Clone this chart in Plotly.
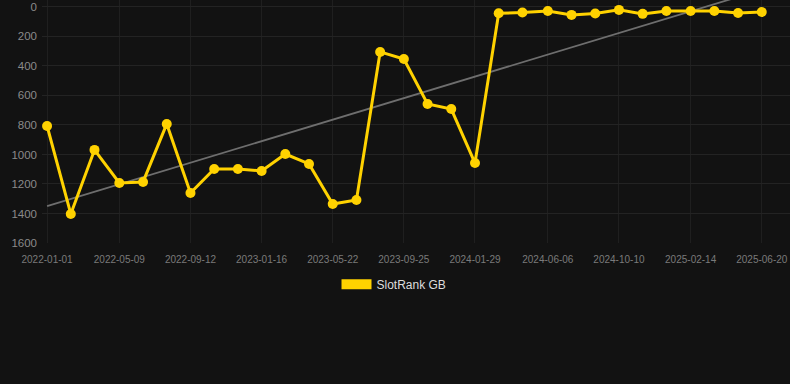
import numpy as np
import pandas as pd
import plotly.graph_objects as go

dates = [
    "2022-01-01", "2022-02-12", "2022-03-26",
    "2022-05-09", "2022-06-20", "2022-08-01",
    "2022-09-12", "2022-10-24", "2022-12-05",
    "2023-01-16", "2023-02-27", "2023-04-10",
    "2023-05-22", "2023-07-03", "2023-08-14",
    "2023-09-25", "2023-11-06", "2023-12-18",
    "2024-01-29", "2024-03-11", "2024-04-22",
    "2024-06-06", "2024-07-18", "2024-08-29",
    "2024-10-10", "2024-11-21", "2025-01-02",
    "2025-02-14", "2025-03-28", "2025-05-09",
    "2025-06-20",
]
rank_gb = [
    807, 1403, 969,
    1193, 1186, 793,
    1261, 1098, 1098,
    1112, 997, 1064,
    1336, 1308, 305,
    353, 658, 692,
    1058, 43, 38,
    27, 54, 45,
    20, 47, 27,
    27, 27, 41,
    34,
]
tick_dates = ["2022-01-01", "2022-05-09", "2022-09-12", "2023-01-16", "2023-05-22",
              "2023-09-25", "2024-01-29", "2024-06-06", "2024-10-10", "2025-02-14",
              "2025-06-20"]
y_ticks = [0, 200, 400, 600, 800, 1000, 1200, 1400, 1600]
series_name = "SlotRank GB"

yellow = "#FFD200"

# linear trend over time
dt = pd.to_datetime(dates)
t = (dt - dt[0]).days.values.astype(float)
k, b = np.polyfit(t, np.array(rank_gb, dtype=float), 1)
trend = k * t + b

fig = go.Figure()
fig.add_trace(go.Scatter(
    x=dates, y=trend, mode="lines",
    line=dict(color="#6e6e6e", width=1.8),
    showlegend=False, hoverinfo="skip",
))
fig.add_trace(go.Scatter(
    x=dates, y=rank_gb, mode="lines+markers",
    line=dict(color=yellow, width=3),
    marker=dict(color=yellow, size=10),
    showlegend=False, cliponaxis=False,
))
fig.add_trace(go.Scatter(
    x=[None], y=[None], mode="lines",
    line=dict(color=yellow, width=12),
    name=series_name, showlegend=True,
))

x0 = pd.Timestamp(dates[0]) - pd.Timedelta(days=9)
x1 = pd.Timestamp(dates[-1]) + pd.Timedelta(days=50)

fig.update_layout(
    width=790, height=384,
    margin=dict(l=42, r=0, t=0, b=141),
    paper_bgcolor="#121212", plot_bgcolor="#121212",
    font=dict(family="Liberation Sans, Arial, sans-serif", color="#888888"),
    xaxis=dict(
        type="date", range=[x0, x1],
        tickvals=tick_dates, ticktext=tick_dates, tickangle=0,
        tickfont=dict(size=10, color="#7a7a7a"),
        showgrid=True, gridcolor="#1f1f1f", gridwidth=1,
        zeroline=False, showline=False, ticks="", ticklabelstandoff=9,
    ),
    yaxis=dict(
        range=[1600, -47], tickvals=y_ticks,
        tickfont=dict(size=11.5, color="#8a8a8a"),
        showgrid=True, gridcolor="#232323", gridwidth=1,
        zeroline=False, showline=False, ticks="", ticklabelstandoff=4,
    ),
    legend=dict(
        orientation="h", x=0.4706, xanchor="center",
        y=-0.17, yanchor="middle",
        font=dict(size=12, color="#dddddd"), bgcolor="rgba(0,0,0,0)",
    ),
    showlegend=True,
)

fig.write_html("out.html")
